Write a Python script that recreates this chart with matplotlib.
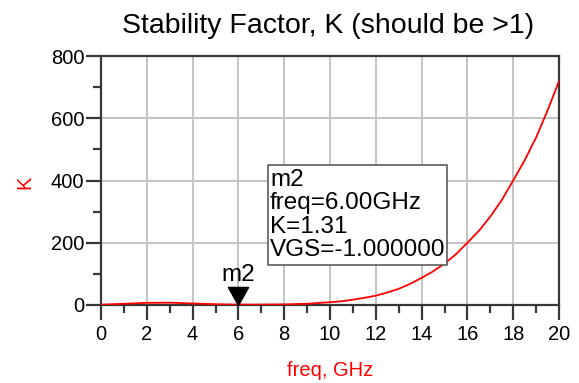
import matplotlib
matplotlib.use("Agg")
import matplotlib.pyplot as plt
from matplotlib.ticker import MultipleLocator
from matplotlib.path import Path
from matplotlib.patches import Rectangle

plt.rcParams['font.family'] = ['Liberation Sans', 'DejaVu Sans']

freq = [0, 1, 2, 3, 4, 5, 6, 7, 8, 9, 10, 10.5, 11, 11.5, 12, 12.5, 13, 13.5, 14, 14.5,
        15, 15.5, 16, 16.5, 17, 17.5, 18, 18.5, 19, 19.5, 20]
K = [1, 4, 7, 7.5, 5, 2.5, 1.31, 1.4, 2, 4, 9, 12, 17, 23, 30, 40, 52, 68, 87, 108,
     133, 163, 200, 238, 284, 337, 400, 465, 538, 625, 719]
marker_freq = 6.0
marker_K = 1.31
marker_name = "m2"
marker_text = "m2\nfreq=6.00GHz\nK=1.31\nVGS=-1.000000"

W, H = 579, 383
fig = plt.figure(figsize=(W / 100, H / 100), dpi=100)
L, R, T, B = 101, 559, 56, 305
ax = fig.add_axes([L / W, 1 - B / H, (R - L) / W, (B - T) / H])
ax.plot(freq, K, color='red', lw=1.3, zorder=3)
ax.set_xlim(0, 20)
ax.set_ylim(0, 800)
ax.xaxis.set_major_locator(MultipleLocator(2))
ax.xaxis.set_minor_locator(MultipleLocator(1))
ax.yaxis.set_major_locator(MultipleLocator(200))
ax.yaxis.set_minor_locator(MultipleLocator(100))
ax.grid(True, which='major', color='#c4c4c4', lw=1.4)
ax.set_axisbelow(True)
for s in ax.spines.values():
    s.set_color('#383838')
    s.set_linewidth(1.6)
ax.tick_params(which='major', direction='out', length=10.5, width=1.6, labelsize=14.5,
               colors='#383838', labelcolor='black')
ax.tick_params(axis='x', which='major', pad=4)
ax.tick_params(axis='y', which='major', pad=1.5)
ax.tick_params(which='minor', direction='out', length=5.5, width=1.6, colors='#383838')

fig.text(328 / W, 1 - 33 / H, "Stability Factor, K (should be >1)", fontsize=20.5,
         ha='center', va='baseline')
fig.text(330 / W, 1 - 370 / H, "freq, GHz", color='red', fontsize=14.5,
         ha='center', va='center')
fig.text(25 / W, 1 - 182 / H, "K", color='red', fontsize=14.5, rotation=90,
         ha='center', va='center')

tri = Path([(0, 0), (-0.56, 1), (0.56, 1), (0, 0)], [Path.MOVETO, Path.LINETO, Path.LINETO, Path.CLOSEPOLY])
ax.plot([marker_freq], [marker_K], marker=tri, color='black', markersize=26,
        linestyle='none', clip_on=False, zorder=4)
ax.annotate(marker_name, (marker_freq, marker_K), xytext=(0, 13.5), textcoords='offset points',
            ha='center', va='bottom', fontsize=17.5)

fig.patches.append(Rectangle((268 / W, 1 - 265 / H), (447 - 268) / W, (265 - 165) / H,
                             transform=fig.transFigure, fc='white', ec='#505050', lw=1.1,
                             zorder=5))
fig.text(270 / W, 1 - 169 / H, marker_text, fontsize=17.5, linespacing=1.08,
         ha='left', va='top', zorder=6)

fig.savefig("out.png", dpi=100)
